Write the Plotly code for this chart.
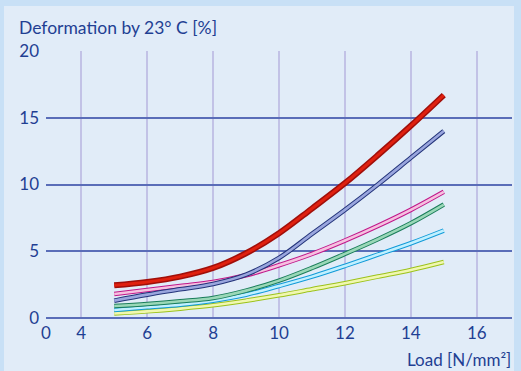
import plotly.graph_objects as go

# load [N/mm2] and deformation [%]
load = [5, 6, 7, 8, 9, 10, 11, 12, 13, 14, 15]

red = [2.45, 2.7, 3.1, 3.75, 4.85, 6.35, 8.2, 10.1, 12.2, 14.4, 16.7]
navy = [1.3, 1.75, 2.15, 2.55, 3.25, 4.5, 6.3, 8.1, 10.0, 12.0, 14.0]
pink = [1.8, 2.1, 2.4, 2.7, 3.2, 3.95, 4.8, 5.8, 6.9, 8.1, 9.45]
green = [0.9, 1.05, 1.25, 1.5, 2.05, 2.8, 3.75, 4.8, 5.9, 7.1, 8.5]
cyan = [0.6, 0.8, 1.0, 1.3, 1.75, 2.4, 3.1, 3.9, 4.75, 5.6, 6.55]
lime = [0.35, 0.5, 0.7, 0.95, 1.3, 1.7, 2.15, 2.6, 3.1, 3.6, 4.2]

x_ticks = [2.93, 4, 6, 8, 10, 12, 14, 16]
x_labels = ['0', '4', '6', '8', '10', '12', '14', '16']
y_ticks = [0, 5, 10, 15, 20]

series = [
    (lime, '#9cc21a', '#f0f7b0', 4.6, 2.6),
    (cyan, '#109ad8', '#c0f0ff', 4.6, 2.6),
    (green, '#1a7d5a', '#9ad8b8', 4.6, 2.6),
    (pink, '#c0188a', '#f6c0e0', 4.6, 2.6),
    (navy, '#23347a', '#9aa6de', 4.6, 2.6),
    (red, '#a00f0a', '#e0200f', 6, 3),
]

W, H = 521, 371
L, R, T, B = 46, 9, 51, 53
pw, ph = W - L - R, H - T - B


def px(x):
    return (x - L) / pw


def py(y):
    return 1 - (y - T) / ph


fig = go.Figure()
for ys, dark, light, w1, w2 in series:
    fig.add_trace(go.Scatter(x=load, y=ys, mode='lines', line=dict(color=dark, width=w1, shape='spline'),
                             hoverinfo='skip'))
    fig.add_trace(go.Scatter(x=load, y=ys, mode='lines', line=dict(color=light, width=w2, shape='spline')))

txt = '#1f3f93'
fig.update_layout(
    width=W, height=H,
    margin=dict(l=L, r=R, t=T, b=B),
    paper_bgcolor='#c8e0f6',
    plot_bgcolor='rgba(0,0,0,0)',
    showlegend=False,
    font=dict(family='Lato', size=17, color=txt),
    shapes=[dict(type='rect', xref='paper', yref='paper', layer='below',
                 x0=px(4), x1=px(514), y0=py(H + 5), y1=py(6),
                 fillcolor='#e1ecf8', line=dict(width=0))],
    annotations=[
        dict(text='Deformation by 23° C [%]', xref='paper', yref='paper',
             x=px(17), y=py(27), xanchor='left', yanchor='middle', showarrow=False,
             font=dict(size=17.5, color=txt)),
        dict(text='Load [N/mm²]', xref='paper', yref='paper',
             x=px(513), y=py(359), xanchor='right', yanchor='middle', showarrow=False,
             font=dict(size=17, color=txt)),
    ],
    xaxis=dict(range=[2.93, 17.07], tickvals=x_ticks, ticktext=x_labels, showgrid=False,
               zeroline=False, showline=False, ticks='', ticklen=0, ticklabelstandoff=3,
               minor=dict(tickvals=x_ticks[1:], showgrid=True, gridcolor='#c2c2e6', gridwidth=1.5, ticks='')),
    yaxis=dict(range=[0, 20], tickvals=y_ticks, showgrid=True, gridcolor='#5a6db8', gridwidth=1.5,
               zeroline=True, zerolinecolor='#5a6db8', zerolinewidth=1.5, showline=False, ticks='',
               ticklabelstandoff=6),
)

fig.write_html("out.html", config={'displayModeBar': False},
               post_script="document.body.style.margin='0';")
